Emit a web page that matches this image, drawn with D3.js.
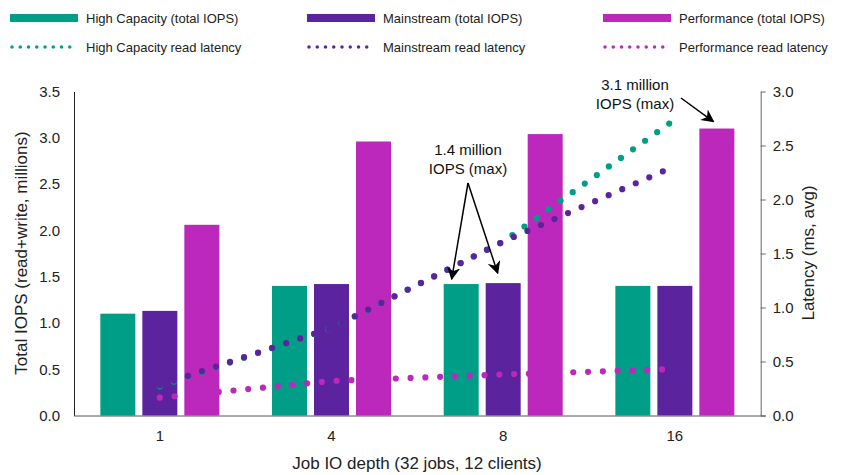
<!DOCTYPE html>
<html><head><meta charset="utf-8">
<script src="https://cdn.jsdelivr.net/npm/d3@7"></script>
<style>body{margin:0;background:#fff}svg{display:block;font-family:"Liberation Sans",Arial,sans-serif}</style>
</head><body><svg id="c" width="841" height="475"></svg>
<script>
const categories = ["1", "4", "8", "16"];
const seriesNames = ["High Capacity", "Mainstream", "Performance"];
const iopsHighCapacity = [1.10, 1.40, 1.42, 1.40];
const iopsMainstream = [1.13, 1.42, 1.43, 1.40];
const iopsPerformance = [2.06, 2.96, 3.04, 3.10];
const latHighCapacity = [0.27, 0.81, 1.61, 2.74];
const latMainstream = [0.28, 0.81, 1.61, 2.31];
const latPerformance = [0.165, 0.32, 0.38, 0.43];
const leftTicks = [0, 0.5, 1, 1.5, 2, 2.5, 3, 3.5];
const rightTicks = [0, 0.5, 1, 1.5, 2, 2.5, 3];
const colors = ["#009e86", "#5c239e", "#bb28bb"];

const svg = d3.select("#c");
const L = 74, R = 760.7, T = 91.5, B = 415.5;
const x = d3.scaleBand().domain(categories).range([L, R]).padding(0);
const xi = d3.scaleBand().domain(seriesNames).range([0, x.bandwidth()]).paddingInner(1/6).paddingOuter(0.627);
const yL = d3.scaleLinear().domain([0, 3.5]).range([B, T]);
const yR = d3.scaleLinear().domain([0, 3]).range([B, T]);

const iops = [iopsHighCapacity, iopsMainstream, iopsPerformance];
const lat = [latHighCapacity, latMainstream, latPerformance];

// bars
seriesNames.forEach((s, si) => {
  svg.append("g").selectAll("rect").data(categories).join("rect")
    .attr("x", c => x(c) + xi(s))
    .attr("width", xi.bandwidth())
    .attr("y", (c, i) => yL(iops[si][i]))
    .attr("height", (c, i) => B - yL(iops[si][i]))
    .attr("fill", colors[si]);
});

// axes
const gl = svg.append("g").attr("transform", `translate(${L},0)`)
  .call(d3.axisLeft(yL).tickValues(leftTicks).tickFormat(d3.format(".1f")).tickSize(0).tickPadding(14));
gl.select(".domain").attr("stroke", "#222");
gl.selectAll("text").attr("font-size", 15).attr("fill", "#222").attr("font-family", "Liberation Sans, Arial, sans-serif");

const gr = svg.append("g").attr("transform", `translate(${R},0)`)
  .call(d3.axisRight(yR).tickValues(rightTicks).tickFormat(d3.format(".1f")).tickSize(5).tickPadding(7).tickSizeOuter(0));
gr.select(".domain").attr("stroke", "#666");
gr.selectAll("line").attr("stroke", "#666");
gr.selectAll("text").attr("font-size", 15).attr("fill", "#222").attr("font-family", "Liberation Sans, Arial, sans-serif");

const gb = svg.append("g").attr("transform", `translate(0,${B})`)
  .call(d3.axisBottom(x).tickSize(0).tickPadding(15));
gb.select(".domain").attr("stroke", "#555").attr("d", `M${L},0.5H${R + 5}`);
gb.selectAll("text").attr("font-size", 15).attr("fill", "#222").attr("font-family", "Liberation Sans, Arial, sans-serif");

// latency lines
const line = d3.line().x((d, i) => x(categories[i]) + x.bandwidth() / 2).y(d => yR(d));
lat.forEach((arr, si) => {
  svg.append("path").attr("d", line(arr)).attr("fill", "none")
    .attr("stroke", colors[si]).attr("stroke-width", 6.2)
    .attr("stroke-linecap", "round").attr("stroke-dasharray", "0 14.8");
});

// axis titles
svg.append("text").attr("transform", "translate(27,253) rotate(-90)")
  .attr("text-anchor", "middle").attr("font-size", 17).attr("fill", "#222")
  .text("Total IOPS (read+write, millions)");
svg.append("text").attr("transform", "translate(814,253) rotate(-90)")
  .attr("text-anchor", "middle").attr("font-size", 17).attr("fill", "#222")
  .text("Latency (ms, avg)");
svg.append("text").attr("x", 417).attr("y", 469)
  .attr("text-anchor", "middle").attr("font-size", 17).attr("fill", "#222")
  .text("Job IO depth (32 jobs, 12 clients)");

// legend
const legX = [10, 307, 603];
seriesNames.forEach((s, si) => {
  const g = svg.append("g");
  g.append("rect").attr("x", legX[si]).attr("y", 14).attr("width", 68).attr("height", 8).attr("fill", colors[si]);
  g.append("text").attr("x", legX[si] + 76).attr("y", 23).attr("font-size", 13).attr("fill", "#222")
    .text(s + " (total IOPS)");
  g.append("line").attr("x1", legX[si] + 2).attr("x2", legX[si] + 68).attr("y1", 47).attr("y2", 47)
    .attr("stroke", colors[si]).attr("stroke-width", 3.5).attr("stroke-linecap", "round").attr("stroke-dasharray", "0 8.25");
  g.append("text").attr("x", legX[si] + 76).attr("y", 52).attr("font-size", 13).attr("fill", "#222")
    .text(s + " read latency");
});

// annotations
const defs = svg.append("defs");
defs.append("marker").attr("id", "ah").attr("viewBox", "0 0 10 10").attr("refX", 9).attr("refY", 5)
  .attr("markerWidth", 13).attr("markerHeight", 13).attr("markerUnits", "userSpaceOnUse").attr("orient", "auto")
  .append("path").attr("d", "M0,0 L10,5 L0,10 L3,5 Z").attr("fill", "#000");

function annot(cx, y1, lines) {
  lines.forEach((t, i) => svg.append("text").attr("x", cx).attr("y", y1 + i * 19)
    .attr("text-anchor", "middle").attr("font-size", 15).attr("fill", "#111").text(t));
}
annot(635, 90, ["3.1 million", "IOPS (max)"]);
annot(468, 155, ["1.4 million", "IOPS (max)"]);

function arrow(x1, y1, x2, y2) {
  svg.append("line").attr("x1", x1).attr("y1", y1).attr("x2", x2).attr("y2", y2)
    .attr("stroke", "#000").attr("stroke-width", 1.5).attr("marker-end", "url(#ah)");
}
const i8 = 2;
arrow(681, 98, x(categories[3]) + xi("Performance") + 14, yL(iopsPerformance[3]) - 7);
arrow(468, 183, x(categories[i8]) + xi("High Capacity") + 8, yL(iopsHighCapacity[i8]) - 5);
arrow(468, 183, x(categories[i8]) + xi("Mainstream") + 12, yL(iopsMainstream[i8]) - 10);
</script></body></html>
